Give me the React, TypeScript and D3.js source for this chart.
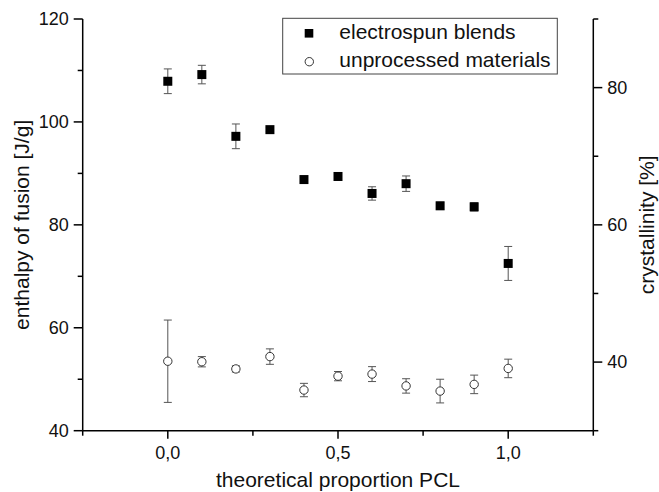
import React from "react";
import * as d3 from "d3";

const proportions = [0, 0.1, 0.2, 0.3, 0.4, 0.5, 0.6, 0.7, 0.8, 0.9, 1.0];
const electrospun = [107.9, 109.2, 97.2, 98.5, 88.8, 89.4, 86.1, 88.0, 83.7, 83.5, 72.5];
const electrospunErr = [2.4, 1.8, 2.4, 0.4, 0.5, 0.6, 1.3, 1.5, 0.7, 0.8, 3.3];
const unprocessed = [53.5, 53.4, 52.0, 54.4, 47.9, 50.6, 51.0, 48.7, 47.7, 49.0, 52.1];
const unprocessedErr = [8.0, 1.0, 0.6, 1.5, 1.3, 0.9, 1.45, 1.4, 2.3, 1.8, 1.8];

const xMajorTicks = [0, 0.5, 1.0];
const xMinorTicks = [-0.25, 0.25, 0.75, 1.25];
const xTickLabels = ["0,0", "0,5", "1,0"];
const yLeftMajor = [40, 60, 80, 100, 120];
const yLeftMinor = [50, 70, 90, 110];
const yRightMajor = [40, 60, 80];
const yRightMinor = [30, 50, 70, 90];

const seriesNames = ["electrospun blends", "unprocessed materials"];

const W = 659;
const H = 492;
const L = 82.7;
const R = 593.3;
const T = 19;
const B = 430.7;
const FONT = "'Liberation Sans', Arial, Helvetica, sans-serif";

export default function App() {
  const x = d3.scaleLinear().domain([-0.25, 1.25]).range([L, R]);
  const yL = d3.scaleLinear().domain([40, 120]).range([B, T]);
  const yR = d3.scaleLinear().domain([30, 90]).range([B, T]);
  const axisColor = "#000";
  const errColor = "#555";
  const cap = 4;
  const sq = 9;

  const errBars = (vals: number[], errs: number[], key: string) =>
    vals.map((v, i) => {
      const cx = x(proportions[i]);
      const y1 = yL(v + errs[i]);
      const y2 = yL(v - errs[i]);
      return (
        <g key={key + i} stroke={errColor} strokeWidth={1}>
          <line x1={cx} x2={cx} y1={y1} y2={y2} />
          <line x1={cx - cap} x2={cx + cap} y1={y1} y2={y1} />
          <line x1={cx - cap} x2={cx + cap} y1={y2} y2={y2} />
        </g>
      );
    });

  return (
    <svg
      width={W}
      height={H}
      style={{ position: "absolute", left: 0, top: 0, background: "#fff" }}
      fontFamily={FONT}
    >
      <rect x={0} y={0} width={W} height={H} fill="#fff" />
      {/* axes lines */}
      <g stroke={axisColor} strokeWidth={1.5} fill="none">
        <line x1={L} x2={L} y1={T} y2={B} />
        <line x1={R} x2={R} y1={T} y2={B} />
        <line x1={L} x2={R} y1={B} y2={B} />
        {yLeftMajor.map((t) => (
          <line key={"lM" + t} x1={L - 9} x2={L} y1={yL(t)} y2={yL(t)} />
        ))}
        {yLeftMinor.map((t) => (
          <line key={"lm" + t} x1={L - 5} x2={L} y1={yL(t)} y2={yL(t)} />
        ))}
        {yRightMajor.map((t) => (
          <line key={"rM" + t} x1={R} x2={R + 9} y1={yR(t)} y2={yR(t)} />
        ))}
        {yRightMinor.map((t) => (
          <line key={"rm" + t} x1={R} x2={R + 5} y1={yR(t)} y2={yR(t)} />
        ))}
        {xMajorTicks.map((t) => (
          <line key={"xM" + t} x1={x(t)} x2={x(t)} y1={B} y2={B + 8} />
        ))}
        {xMinorTicks.map((t) => (
          <line key={"xm" + t} x1={x(t)} x2={x(t)} y1={B} y2={B + 5} />
        ))}
      </g>
      {/* tick labels */}
      <g fontSize={18} fill="#111">
        {yLeftMajor.map((t) => (
          <text key={"lt" + t} x={L - 14} y={yL(t)} textAnchor="end" dominantBaseline="central">
            {t}
          </text>
        ))}
        {yRightMajor.map((t) => (
          <text key={"rt" + t} x={R + 14} y={yR(t)} textAnchor="start" dominantBaseline="central">
            {t}
          </text>
        ))}
        {xMajorTicks.map((t, i) => (
          <text key={"xt" + t} x={x(t)} y={459} textAnchor="middle">
            {xTickLabels[i]}
          </text>
        ))}
      </g>
      {/* axis titles */}
      <g fontSize={21} fill="#111">
        <text x={(L + R) / 2} y={487} textAnchor="middle">
          theoretical proportion PCL
        </text>
        <text
          transform={`translate(29,${(T + B) / 2}) rotate(-90)`}
          textAnchor="middle"
        >
          enthalpy of fusion [J/g]
        </text>
        <text
          transform={`translate(654,${(T + B) / 2}) rotate(-90)`}
          textAnchor="middle"
        >
          crystallinity [%]
        </text>
      </g>
      {/* error bars */}
      {errBars(electrospun, electrospunErr, "e")}
      {errBars(unprocessed, unprocessedErr, "u")}
      {/* markers */}
      {electrospun.map((v, i) => (
        <rect
          key={"es" + i}
          x={x(proportions[i]) - sq / 2}
          y={yL(v) - sq / 2}
          width={sq}
          height={sq}
          fill="#000"
        />
      ))}
      {unprocessed.map((v, i) => (
        <circle
          key={"uc" + i}
          cx={x(proportions[i])}
          cy={yL(v)}
          r={4.2}
          fill="#fff"
          stroke="#333"
          strokeWidth={1}
        />
      ))}
      {/* legend */}
      <g>
        <rect x={282.7} y={18.3} width={274.6} height={55.7} fill="#fff" stroke="#444" strokeWidth={1} />
        <rect x={309 - 4.3} y={33.3 - 4.3} width={8.6} height={8.6} fill="#000" />
        <circle cx={309.3} cy={61.7} r={4.2} fill="#fff" stroke="#333" strokeWidth={1} />
        <text x={339.3} y={39} fontSize={21} fill="#111">
          {seriesNames[0]}
        </text>
        <text x={339.3} y={67} fontSize={21} fill="#111">
          {seriesNames[1]}
        </text>
      </g>
    </svg>
  );
}
